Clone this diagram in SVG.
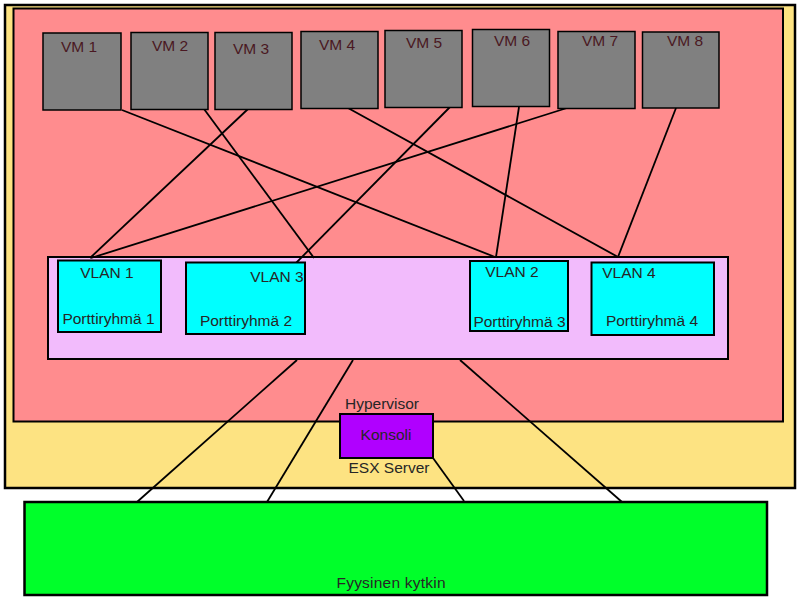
<svg xmlns="http://www.w3.org/2000/svg" width="800" height="600" viewBox="0 0 800 600">
<style>
text{font-family:"Liberation Sans",Arial,sans-serif;font-size:15.5px;fill:#262626;text-anchor:middle}
.vm rect{fill:#808080;stroke:#000;stroke-width:1.5}
.vm text{fill:#4a1822}
.vlan rect{fill:#00ffff;stroke:#000;stroke-width:2}
.conn line{stroke:#000;stroke-width:1.8}
</style>
<rect width="800" height="600" fill="#fff"/>
<g id="esx">
<rect x="5" y="5" width="790" height="483" fill="#fde382" stroke="#000" stroke-width="2.5"/>
<text x="389" y="473">ESX Server</text>
</g>
<g id="hypervisor">
<rect x="13.5" y="8.5" width="769.5" height="413" fill="#ff8c8e" stroke="#000" stroke-width="2"/>
<text x="382" y="409">Hypervisor</text>
</g>
<g id="switch">
<rect x="24.5" y="502" width="742.5" height="93" fill="#00ff2a" stroke="#000" stroke-width="2.5"/>
<text x="391" y="588" textLength="109">Fyysinen kytkin</text>
</g>
<g id="vswitch">
<rect x="48" y="257" width="680" height="102" fill="#f2bbfc" stroke="#000" stroke-width="2"/>
</g>
<g class="conn">
<line x1="122" y1="110" x2="495" y2="257"/>
<line x1="204" y1="109" x2="314" y2="258"/>
<line x1="248" y1="109" x2="90" y2="258"/>
<line x1="348" y1="108" x2="618" y2="257"/>
<line x1="450" y1="107" x2="295" y2="264"/>
<line x1="519" y1="107" x2="496" y2="257"/>
<line x1="567" y1="108" x2="91" y2="258"/>
<line x1="676" y1="108" x2="618" y2="257"/>
<line x1="297" y1="360" x2="137" y2="502"/>
<line x1="353" y1="360" x2="267" y2="502"/>
<line x1="460" y1="360" x2="622" y2="502"/>
<line x1="433" y1="458" x2="464" y2="501"/>
</g>
<g id="vm1" class="vm"><rect x="43" y="33" width="78" height="77" stroke-width="2.2"/><text x="79" y="52">VM 1</text></g>
<g id="vm2" class="vm"><rect x="131" y="32.5" width="77" height="77"/><text x="170" y="51">VM 2</text></g>
<g id="vm3" class="vm"><rect x="215" y="32.5" width="77" height="77"/><text x="251" y="54">VM 3</text></g>
<g id="vm4" class="vm"><rect x="301" y="31.5" width="77" height="77"/><text x="337" y="50">VM 4</text></g>
<g id="vm5" class="vm"><rect x="385" y="30.5" width="77" height="77"/><text x="424" y="48">VM 5</text></g>
<g id="vm6" class="vm"><rect x="472.5" y="29.5" width="77" height="77"/><text x="512" y="46">VM 6</text></g>
<g id="vm7" class="vm"><rect x="558" y="31.5" width="77" height="77"/><text x="600" y="46">VM 7</text></g>
<g id="vm8" class="vm"><rect x="642.5" y="32" width="76.5" height="76" stroke-width="2.2"/><text x="685" y="46">VM 8</text></g>
<g id="pg1" class="vlan"><rect x="58" y="260.5" width="103" height="71.5"/><text x="107" y="278">VLAN 1</text><text x="108.5" y="324">Porttiryhmä 1</text></g>
<g id="pg2" class="vlan"><rect x="186" y="262.5" width="119" height="71.5"/><text x="277" y="282">VLAN 3</text><text x="246" y="326">Porttiryhmä 2</text></g>
<g id="pg3" class="vlan"><rect x="470" y="261" width="98" height="70"/><text x="512" y="277">VLAN 2</text><text x="519.5" y="327">Porttiryhmä 3</text></g>
<g id="pg4" class="vlan"><rect x="591.5" y="262.5" width="122.5" height="72.5"/><text x="629" y="278">VLAN 4</text><text x="652" y="326">Porttiryhmä 4</text></g>
<g id="konsoli">
<rect x="340" y="414" width="93" height="44" fill="#b000ff" stroke="#000" stroke-width="2"/>
<text x="386" y="440">Konsoli</text>
</g>
</svg>
